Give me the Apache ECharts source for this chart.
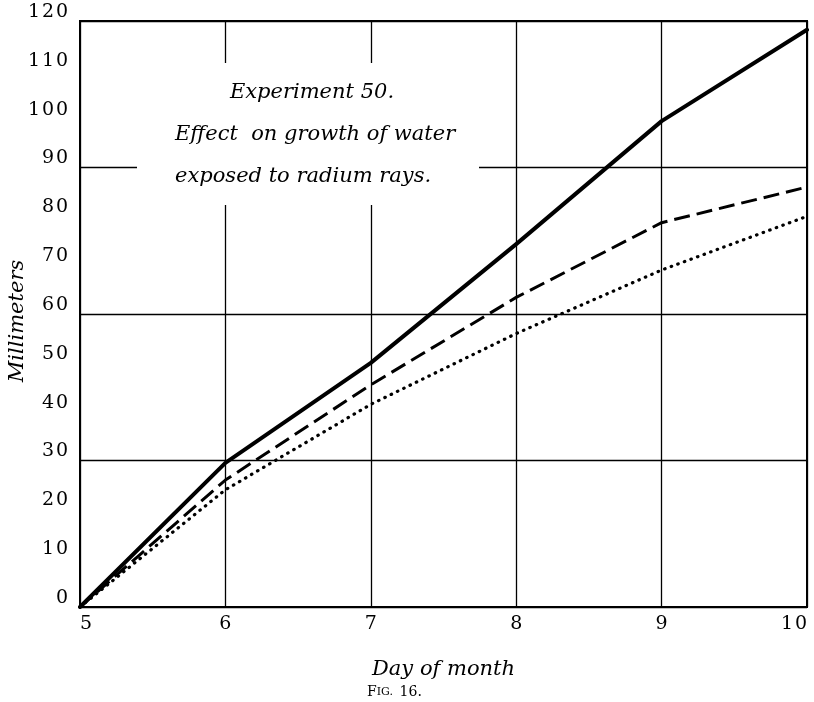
<!DOCTYPE html>
<html>
<head>
<meta charset="utf-8">
<script src="https://cdn.jsdelivr.net/npm/echarts@6/dist/echarts.min.js"></script>
<style>
html,body{margin:0;padding:0;background:#fff;}
#chart{width:814px;height:702px;}
</style>
</head>
<body>
<div id="chart"></div>
<script>
const days = [5, 6, 7, 8, 9, 10];
const solidVals = [0, 29.5, 50, 74.3, 99.5, 118.2];
const dashedVals = [0, 26, 45.5, 63.4, 78.7, 86];
const dottedVals = [0, 24, 41.5, 56, 69, 80];
const titleLines = ['Experiment 50.', 'Effect  on growth of water', 'exposed to radium rays.'];
const xName = 'Day of month';
const yName = 'Millimeters';

const INK = '#000';
const SERIF = "'DejaVu Serif', 'Liberation Serif', serif";
const spaced = v => String(v).split('').join('\u200A');

const pairs = vals => days.map((d, i) => [d, vals[i]]);

const chart = echarts.init(document.getElementById('chart'), null, {renderer: 'canvas'});
chart.setOption({
  backgroundColor: '#fff',
  animation: false,
  grid: {left: 80, right: 7, top: 21, bottom: 95, show: true, borderColor: INK, borderWidth: 2,
    containLabel: false, outerBoundsMode: 'none'},
  xAxis: {
    type: 'value', min: 5, max: 10, interval: 1,
    name: xName, nameLocation: 'middle', nameGap: 52,
    nameTextStyle: {fontFamily: SERIF, fontStyle: 'italic', fontSize: 21, color: INK},
    axisLine: {show: true, lineStyle: {color: INK, width: 2}},
    axisTick: {show: false},
    splitLine: {show: true, lineStyle: {color: INK, width: 1.3}},
    axisLabel: {fontFamily: SERIF, fontSize: 19, color: INK, margin: 8,
      alignMinLabel: 'left', alignMaxLabel: 'right', formatter: spaced}
  },
  yAxis: [{
    type: 'value', min: 0, max: 120, interval: 10,
    name: yName, nameLocation: 'middle', nameGap: 52, nameRotate: 90, nameMoveOverlap: false,
    nameTextStyle: {fontFamily: SERIF, fontStyle: 'italic', fontSize: 21, color: INK, padding: [0, 14, 0, 0]},
    axisLine: {show: true, lineStyle: {color: INK, width: 2}},
    axisTick: {show: false},
    splitLine: {show: false},
    axisLabel: {fontFamily: SERIF, fontSize: 19, color: INK, margin: 12,
      verticalAlign: 'bottom', lineHeight: 18, formatter: spaced}
  }, {
    type: 'value', min: 0, max: 120, interval: 30, position: 'left',
    axisLine: {show: false}, axisTick: {show: false}, axisLabel: {show: false},
    splitLine: {show: true, lineStyle: {color: INK, width: 1.3}}
  }],
  series: [{
    type: 'line', data: pairs(solidVals), symbol: 'none',
    lineStyle: {color: INK, width: 4, cap: 'round', join: 'round'}, z: 5
  }, {
    type: 'line', data: pairs(dashedVals), symbol: 'none',
    lineStyle: {color: INK, width: 3, type: [16, 7]}, z: 5
  }, {
    type: 'line', data: pairs(dottedVals), symbol: 'none',
    lineStyle: {color: INK, width: 3.2, type: [0.5, 6.5], cap: 'round'}, z: 5
  }],
  graphic: [
    {type: 'rect', z: 10, shape: {x: 137, y: 63, width: 342, height: 142}, style: {fill: '#fff'}},
    {type: 'text', z: 11, x: 312, y: 93, style: {text: titleLines[0], fontFamily: SERIF, fontStyle: 'italic', fontSize: 21, fill: INK, align: 'center', verticalAlign: 'middle'}},
    {type: 'text', z: 11, x: 175, y: 135, style: {text: titleLines[1], fontFamily: SERIF, fontStyle: 'italic', fontSize: 21, fill: INK, align: 'left', verticalAlign: 'middle'}},
    {type: 'text', z: 11, x: 175, y: 177, style: {text: titleLines[2], fontFamily: SERIF, fontStyle: 'italic', fontSize: 21, fill: INK, align: 'left', verticalAlign: 'middle'}},
    {type: 'text', z: 11, x: 367, y: 692, style: {
      text: '{b|F}{s|IG.}  {n|16.}',
      rich: {b: {fontFamily: SERIF, fontSize: 14, fill: INK}, s: {fontFamily: SERIF, fontSize: 11, fill: INK}, n: {fontFamily: SERIF, fontSize: 14, fill: INK}},
      align: 'left', verticalAlign: 'middle'}}
  ]
});
</script>
</body>
</html>
